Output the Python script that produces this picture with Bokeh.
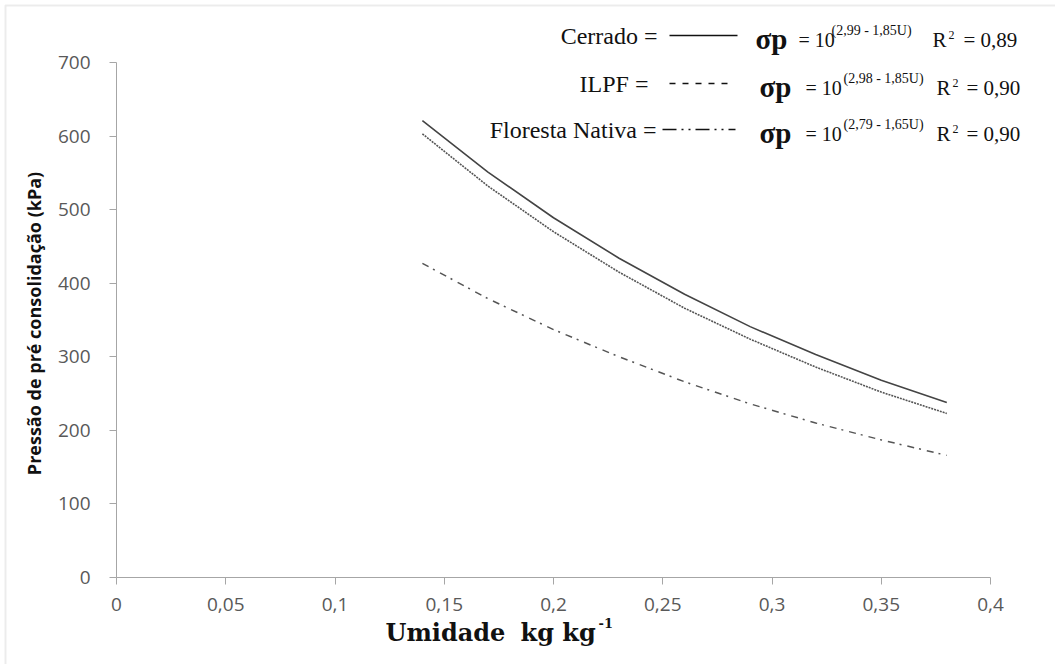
import math
from bokeh.plotting import figure
from bokeh.models import Range1d, FixedTicker, Label, Arrow, BoxAnnotation
from bokeh.embed import file_html
from bokeh.resources import INLINE

# ---- data ----
umidade = [0.14, 0.17, 0.20, 0.23, 0.26, 0.29, 0.32, 0.35, 0.38]
cerrado = [621, 551, 489, 434, 385, 341, 303, 268, 238]
ilpf = [603, 532, 470, 415, 366, 324, 286, 252, 223]
floresta = [427, 379, 337, 300, 266, 236, 210, 187, 166]

x_ticks = [0, 0.05, 0.1, 0.15, 0.2, 0.25, 0.3, 0.35, 0.4]
x_tick_labels = ["0", "0,05", "0,1", "0,15", "0,2", "0,25", "0,3", "0,35", "0,4"]
y_ticks = [0, 100, 200, 300, 400, 500, 600, 700]

legend_names = ["Cerrado =", "ILPF =", "Floresta Nativa ="]
legend_exps = ["(2,99 - 1,85U)", "(2,98 - 1,85U)", "(2,79 - 1,65U)"]
legend_r2 = ["= 0,89", "= 0,90", "= 0,90"]

# ---- layout: the frame fills the canvas; axes are fixed inside it ----
W, H = 1055, 664
L, R, T, B = 116, 990, 62, 577
X0, X1, Y0, Y1 = 0, 0.4, 0, 700

def fx(px):
    return X0 + (px - L) / (R - L) * (X1 - X0)

def fy(py):
    return Y0 + (B - py) / (B - T) * (Y1 - Y0)

p = figure(width=W, height=H, x_range=Range1d(fx(0), fx(W)), y_range=Range1d(fy(H), fy(0)),
           output_backend="svg", toolbar_location=None,
           min_border=0, min_border_left=0, min_border_right=0,
           min_border_top=0, min_border_bottom=0)
p.outline_line_color = None
p.grid.visible = False
p.background_fill_color = "white"
p.border_fill_color = "white"

axis_col = "#a6a6a6"
p.xaxis.ticker = FixedTicker(ticks=x_ticks)
p.xaxis.major_label_overrides = dict(zip(x_ticks, x_tick_labels))
p.yaxis.ticker = FixedTicker(ticks=y_ticks)
p.xaxis.fixed_location = Y0
p.yaxis.fixed_location = X0
p.xaxis.bounds = (X0, X1)
p.yaxis.bounds = (Y0, Y1)
for ax in (p.xaxis, p.yaxis):
    ax.axis_line_color = axis_col
    ax.axis_line_width = 1
    ax.major_tick_line_color = axis_col
    ax.major_tick_out = 7
    ax.major_tick_in = 0
    ax.minor_tick_line_color = None
    ax.major_label_text_color = "#595959"
    ax.major_label_text_font = "Open Sans"
    ax.major_label_text_font_size = "19px"
p.xaxis.major_label_standoff = 13
p.yaxis.major_label_standoff = 19

# ---- curves ----
p.line(umidade, cerrado, line_color="#444444", line_width=1.6)
p.line(umidade, ilpf, line_color="#555555", line_width=1.6, line_dash="2 1")
p.line(umidade, floresta, line_color="#555555", line_width=1.5, line_dash="7 5 2 6")

# ---- border of the picture ----
p.add_layout(BoxAnnotation(left=fx(5), right=fx(1200), top=fy(5), bottom=fy(800),
                           fill_alpha=0, line_color="#c0c0c0", line_width=2))

# ---- axis titles ----
p.add_layout(Label(x=fx(33), y=fy(323), text="Pressão de pré consolidação (kPa)",
                   angle=math.pi / 2, text_align="center", text_baseline="middle",
                   text_font="Open Sans", text_font_style="bold", text_font_size="18px",
                   text_color="#111111"))
p.add_layout(Label(x=fx(385), y=fy(632), text="Umidade",
                   text_align="left", text_baseline="middle",
                   text_font="DejaVu Serif", text_font_style="bold",
                   text_font_size="24px", text_color="#111111"))
p.add_layout(Label(x=fx(520), y=fy(632), text="kg kg",
                   text_align="left", text_baseline="middle",
                   text_font="DejaVu Serif", text_font_style="bold",
                   text_font_size="24px", text_color="#111111"))
p.add_layout(Label(x=fx(598), y=fy(622), text="-1",
                   text_align="left", text_baseline="middle",
                   text_font="DejaVu Serif", text_font_style="bold",
                   text_font_size="13px", text_color="#111111"))

# ---- custom legend ----
row_c = [35, 83, 129]
name_right = [657, 648, 656]
samp_x = [(669, 737), (669, 729), (662, 735)]
dashes = ["solid", "6 7", "14 5 2 5 2 5"]
sig_x = [755, 759, 759]
eq_x = [798, 805, 805]
sup_x = [831, 843, 843]
r_x = [932, 936, 936]
r2_x = [963, 966, 966]
serif = "Liberation Serif"
ink = "#111111"
for i in range(3):
    c = row_c[i]
    p.add_layout(Label(x=fx(name_right[i]), y=fy(c), text=legend_names[i], text_align="right",
                       text_baseline="middle", text_font=serif,
                       text_font_size="24px", text_color=ink))
    p.add_layout(Arrow(end=None, x_start=fx(samp_x[i][0]), y_start=fy(c),
                       x_end=fx(samp_x[i][1]), y_end=fy(c), line_color=ink,
                       line_width=1.4, line_dash=dashes[i]))
    p.add_layout(Label(x=fx(sig_x[i]), y=fy(c + 3), text="σp", text_align="left",
                       text_baseline="middle", text_font=serif,
                       text_font_style="bold", text_font_size="29px", text_color=ink))
    p.add_layout(Label(x=fx(eq_x[i]), y=fy(c + 4), text="= 10", text_align="left",
                       text_baseline="middle", text_font=serif,
                       text_font_size="20px", text_color=ink))
    p.add_layout(Label(x=fx(sup_x[i]), y=fy(c - 5), text=legend_exps[i], text_align="left",
                       text_baseline="middle", text_font=serif,
                       text_font_size="14px", text_color=ink))
    p.add_layout(Label(x=fx(r_x[i]), y=fy(c + 4), text="R", text_align="left",
                       text_baseline="middle", text_font=serif,
                       text_font_size="21px", text_color=ink))
    p.add_layout(Label(x=fx(r_x[i] + 16), y=fy(c - 1), text="2", text_align="left",
                       text_baseline="middle", text_font=serif,
                       text_font_size="12px", text_color=ink))
    p.add_layout(Label(x=fx(r2_x[i]), y=fy(c + 4), text=legend_r2[i], text_align="left",
                       text_baseline="middle", text_font=serif,
                       text_font_size="21px", text_color=ink))

open("out.html", "w").write(file_html(p, INLINE))
